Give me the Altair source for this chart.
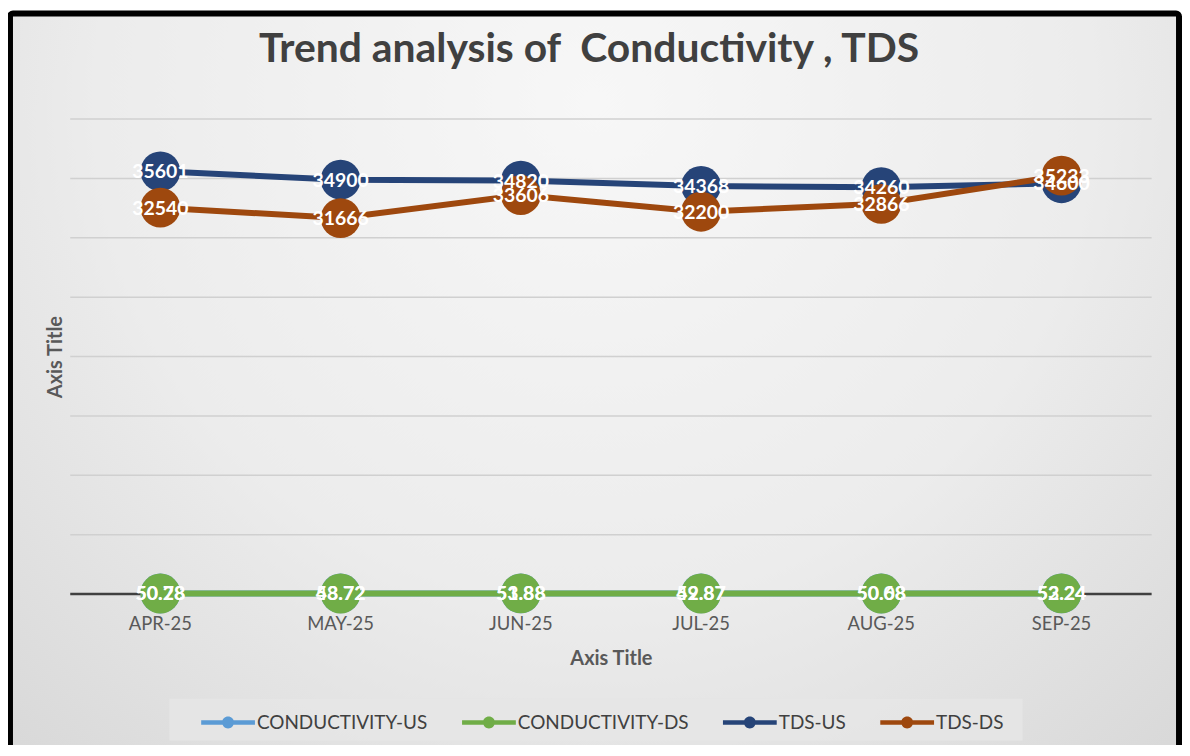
import altair as alt
import pandas as pd

# ---- data ----
months = ["APR-25", "MAY-25", "JUN-25", "JUL-25", "AUG-25", "SEP-25"]
cond_us = [50.78, 53.72, 51.88, 52.87, 50.68, 52.24]
cond_ds = [50.28, 48.72, 53.88, 49.87, 50.08, 53.24]
tds_us = [35601, 34900, 34820, 34368, 34260, 34600]
tds_ds = [32540, 31666, 33606, 32200, 32866, 35233]
series_names = ["CONDUCTIVITY-US", "CONDUCTIVITY-DS", "TDS-US", "TDS-DS"]
series_colors = ["#5B9BD5", "#70AD47", "#264478", "#9E480E"]
grid_values = [5000, 10000, 15000, 20000, 25000, 30000, 35000, 40000]
chart_title = "Trend analysis of \u00a0Conductivity , TDS"

series_values = [cond_us, cond_ds, tds_us, tds_ds]

rows = []
for name, vals in zip(series_names, series_values):
    for m, v in zip(months, vals):
        rows.append({"month": m, "series": name, "value": v, "label": f"{v:g}"})
df = pd.DataFrame(rows)

FONT = "Lato"
W, H = 1086, 477
PAD_L, PAD_T, PAD_R, PAD_B = 62.5, 110, 30.5, 150

x_axis = alt.Axis(title="Axis Title", domain=False, ticks=False, grid=False,
                  labelAngle=0, labelFont=FONT, labelFontSize=18.5,
                  labelColor="#595959", labelPadding=21,
                  titleFont=FONT, titleFontSize=20, titleFontWeight="bold",
                  titleColor="#595959", titlePadding=15, zindex=1)
y_axis = alt.Axis(title="Axis Title", domain=False, ticks=False, labels=False,
                  grid=False, titleFont=FONT, titleFontSize=20,
                  titleFontWeight="bold", titleColor="#595959",
                  titlePadding=5, zindex=1)

x_enc = alt.X("month:N", sort=months,
              scale=alt.Scale(type="band", domain=months, paddingInner=0, paddingOuter=0),
              axis=x_axis)
y_scale = alt.Scale(domain=[0, 40000], nice=False)
y_enc = alt.Y("value:Q", scale=y_scale, axis=y_axis)

one = pd.DataFrame({"k": [0]})

frame = alt.Chart(one).mark_rect(
    fill=alt.RadialGradient(
        gradient="radial",
        stops=[alt.GradientStop(color="#f7f7f7", offset=0),
               alt.GradientStop(color="#ececec", offset=0.5),
               alt.GradientStop(color="#d2d2d2", offset=1)],
        x1=0.5, y1=0.25, r1=0, x2=0.5, y2=0.25, r2=0.85),
    stroke="#000000", strokeWidth=6, cornerRadius=3, clip=False
).encode(x=alt.value(-60.5), x2=alt.value(1113.5), y=alt.value(-106), y2=alt.value(660))

title_mark = alt.Chart(pd.DataFrame({"t": [chart_title]})).mark_text(
    font=FONT, fontSize=41, fontWeight="bold", color="#404040",
    align="center", baseline="middle", clip=False
).encode(x=alt.value(521), y=alt.value(-69), text="t:N")

legend_box = alt.Chart(one).mark_rect(fill="#e6e6e6", opacity=0.9, clip=False).encode(
    x=alt.value(99.5), x2=alt.value(956.5), y=alt.value(582), y2=alt.value(624))

grid = alt.Chart(pd.DataFrame({"g": grid_values})).mark_rule(
    color="#d0d0d0", strokeWidth=1.5).encode(y=alt.Y("g:Q", scale=y_scale, axis=y_axis))

zero = alt.Chart(pd.DataFrame({"g": [0]})).mark_rule(
    color="#404040", strokeWidth=2.5).encode(y=alt.Y("g:Q", scale=y_scale, axis=y_axis))

color_scale = alt.Scale(domain=series_names, range=series_colors)
legend_path = ("M-1,-0.085H1V0.085H-1Z"
               "M-0.22,0A0.22,0.22,0,1,1,0.22,0A0.22,0.22,0,1,1,-0.22,0Z")

layers = [frame, title_mark, legend_box, grid, zero]
for name, col in zip(series_names, series_colors):
    base = alt.Chart(df).transform_filter(alt.datum.series == name)
    line = base.mark_line(color=col, strokeWidth=6).encode(x=x_enc, y=y_enc)
    pts = base.mark_circle(size=1600, opacity=1).encode(
        x=x_enc, y=y_enc,
        color=alt.Color("series:N", scale=color_scale,
                        legend=alt.Legend(title=None, orient="none", direction="horizontal",
                                          columns=4, legendX=131.5, legendY=579,
                                          symbolType=legend_path, symbolSize=2916,
                                          symbolStrokeWidth=0, symbolOpacity=1,
                                          labelFont=FONT, labelFontSize=19,
                                          labelLimit=400,
                                          labelColor="#404040", labelOffset=2,
                                          columnPadding=34, padding=0)))
    layers += [line, pts]

for name in series_names:
    txt = alt.Chart(df).transform_filter(alt.datum.series == name).mark_text(
        font=FONT, fontSize=19.5, fontWeight="bold", color="#ffffff",
        align="center", baseline="middle", dy=1
    ).encode(x=x_enc, y=y_enc, text="label:N")
    layers.append(txt)

chart = alt.layer(*layers).properties(
    width=W, height=H,
    autosize=alt.AutoSizeParams(type="none"),
    padding={"left": PAD_L, "top": PAD_T, "right": PAD_R, "bottom": PAD_B},
    background="#ffffff"
).configure_view(stroke=None)

chart.save("out.html", embed_options={"renderer": "svg", "actions": False})
